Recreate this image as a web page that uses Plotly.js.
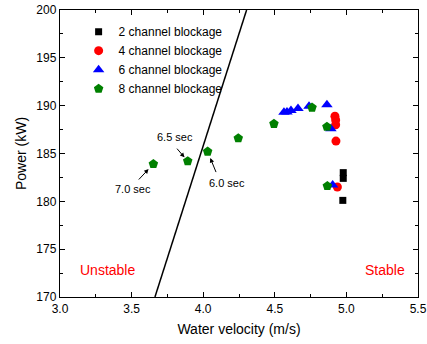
<!DOCTYPE html>
<html>
<head>
<meta charset="utf-8">
<script src="https://cdn.plot.ly/plotly-3.0.1.min.js"></script>
<style>html,body{margin:0;padding:0;background:#fff;}#chart{width:427px;height:344px;}</style>
</head>
<body>
<div id="chart"></div>
<script>
// Data
const ch2_x = [4.978, 4.978, 4.975];
const ch2_y = [183.0, 182.4, 180.1];
const ch4_x = [4.92, 4.925, 4.925, 4.927, 4.937];
const ch4_y = [188.9, 188.5, 188.0, 186.3, 181.5];
const ch6_x = [4.564, 4.585, 4.613, 4.662, 4.739, 4.864, 4.892, 4.904];
const ch6_y = [189.3, 189.35, 189.5, 189.7, 189.95, 190.1, 187.6, 181.7];
const ch8_x = [3.652, 3.892, 4.031, 4.245, 4.494, 4.76, 4.864, 4.867];
const ch8_y = [183.9, 184.2, 185.2, 186.6, 188.1, 189.8, 187.8, 181.6];
const boundary_x = [3.663, 4.303];
const boundary_y = [170, 200];
const seriesNames = ["2 channel blockage", "4 channel blockage", "6 channel blockage", "8 channel blockage"];
const timeLabels = ["7.0 sec", "6.5 sec", "6.0 sec"];
const timeIdx = [0, 1, 2];
const regionLabels = ["Unstable", "Stable"];
const xTicks = [3.0, 3.5, 4.0, 4.5, 5.0, 5.5];
const yTicks = [170, 175, 180, 185, 190, 195, 200];

const FONT = "Liberation Sans, Arial, sans-serif";

const traces = [
  {x: boundary_x, y: boundary_y, mode: "lines", line: {color: "#000", width: 1.5}, showlegend: false, hoverinfo: "skip"},
  {x: ch2_x, y: ch2_y, mode: "markers", name: seriesNames[0], marker: {symbol: "square", size: 7, color: "#000000"}},
  {x: ch4_x, y: ch4_y, mode: "markers", name: seriesNames[1], marker: {symbol: "circle", size: 9, color: "#ff0000"}},
  {x: ch6_x, y: ch6_y, mode: "markers", name: seriesNames[2], marker: {symbol: "triangle-up", size: 10, color: "#0000ff"}},
  {x: ch8_x, y: ch8_y, mode: "markers", name: seriesNames[3], marker: {symbol: "pentagon", size: 10, color: "#008000"}}
];

// arrow tail offsets (ax, ay, standoff) and text shifts (xshift, yshift)
const arrowOff = [[-16, 17, 7], [-12, -14, 5], [9, 22, 7]];
const textOff = [[-20, -25], [-13, 24], [19, -31]];
const annotations = [];
timeIdx.forEach((k, i) => {
  annotations.push({
    x: ch8_x[k], y: ch8_y[k], xref: "x", yref: "y", text: "", showarrow: true,
    arrowhead: 2, arrowsize: 0.9, arrowwidth: 1, arrowcolor: "#000",
    ax: arrowOff[i][0], ay: arrowOff[i][1], standoff: arrowOff[i][2]
  });
  annotations.push({
    x: ch8_x[k], y: ch8_y[k], xref: "x", yref: "y", text: timeLabels[i], showarrow: false,
    xshift: textOff[i][0], yshift: textOff[i][1],
    font: {family: FONT, size: 11, color: "#000"}
  });
});
annotations.push({x: 3.33, y: 172.8, xref: "x", yref: "y", text: regionLabels[0], showarrow: false,
  font: {family: FONT, size: 14, color: "#ff0000"}});
annotations.push({x: 5.27, y: 172.8, xref: "x", yref: "y", text: regionLabels[1], showarrow: false,
  font: {family: FONT, size: 14, color: "#ff0000"}});

const axisCommon = {
  showgrid: false, zeroline: false, showline: true, mirror: "ticks",
  linecolor: "#000", linewidth: 1.2, ticks: "inside", ticklen: 5, tickwidth: 1, tickcolor: "#000",
  tickfont: {family: FONT, size: 12, color: "#000"}
};

const layout = {
  width: 427, height: 344,
  margin: {l: 60, r: 9, t: 10, b: 47},
  paper_bgcolor: "#fff", plot_bgcolor: "#fff",
  font: {family: FONT, color: "#000"},
  xaxis: Object.assign({}, axisCommon, {
    range: [3.0, 5.5], tickvals: xTicks, ticktext: xTicks.map(v => v.toFixed(1)),
    minor: {dtick: 0.25, ticks: "inside", ticklen: 3, tickcolor: "#000", showgrid: false},
    title: {text: "Water velocity (m/s)", font: {family: FONT, size: 14}, standoff: 9}
  }),
  yaxis: Object.assign({}, axisCommon, {
    range: [170, 200], tickvals: yTicks, ticktext: yTicks.map(String),
    minor: {dtick: 2.5, ticks: "inside", ticklen: 3, tickcolor: "#000", showgrid: false},
    title: {text: "Power (kW)", font: {family: FONT, size: 14}, standoff: 6}
  }),
  legend: {x: 0.052, y: 0.975, xanchor: "left", yanchor: "top", bgcolor: "rgba(0,0,0,0)",
    borderwidth: 0, font: {family: FONT, size: 12, color: "#000"}, tracegroupgap: 0},
  annotations: annotations,
  showlegend: true
};

Plotly.newPlot("chart", traces, layout, {staticPlot: true, displayModeBar: false});
</script>
</body>
</html>
